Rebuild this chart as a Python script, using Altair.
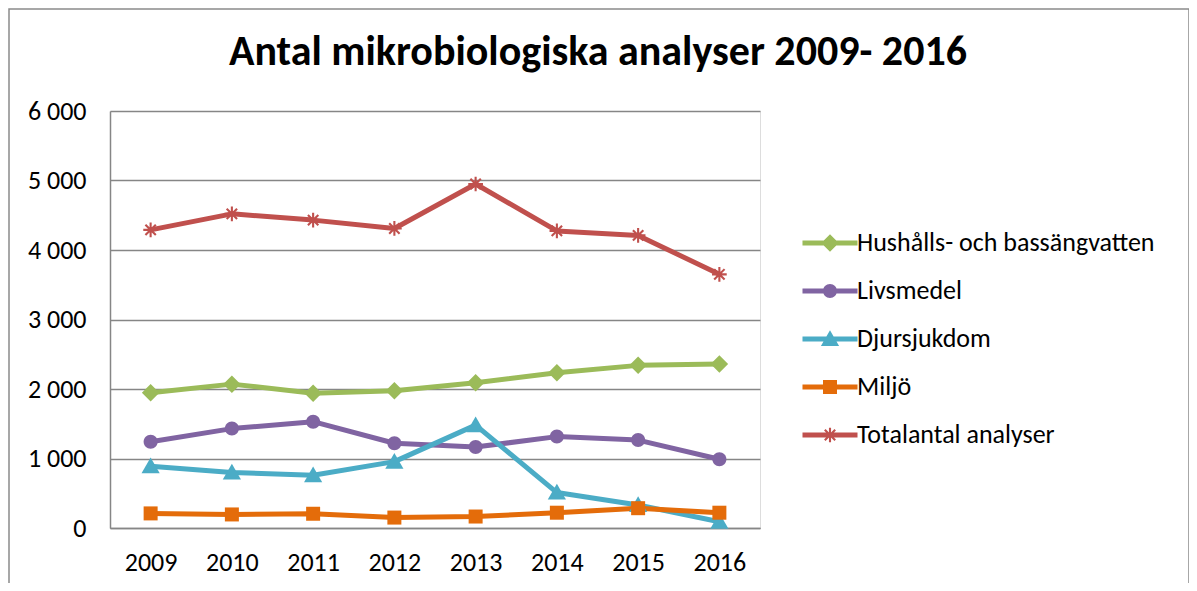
import altair as alt
import pandas as pd
import math

years = [2009, 2010, 2011, 2012, 2013, 2014, 2015, 2016]
series = ["Hushålls- och bassängvatten", "Livsmedel", "Djursjukdom", "Miljö", "Totalantal analyser"]
hushall = [1945, 2070, 1940, 1975, 2090, 2235, 2340, 2360]
livsmedel = [1240, 1430, 1530, 1220, 1165, 1315, 1265, 990]
djur = [890, 800, 760, 955, 1480, 510, 330, 90]
miljo = [210, 195, 205, 150, 165, 220, 285, 220]
total = [4290, 4520, 4430, 4310, 4950, 4275, 4210, 3650]
colors = ["#9BBB59", "#8064A2", "#4BACC6", "#E46C0A", "#C0504D"]
y_ticks = [0, 1000, 2000, 3000, 4000, 5000, 6000]
title_text = "Antal mikrobiologiska analyser 2009- 2016"

values = [hushall, livsmedel, djur, miljo, total]
rows = []
for s, vals in zip(series, values):
    for yr, v in zip(years, vals):
        rows.append({"series": s, "year": yr, "value": v})
df = pd.DataFrame(rows)

FONT = "Carlito, Lato, sans-serif"
LFS = 26


def rect(x0, y0, x1, y1):
    return f"M{x0:.3f},{y0:.3f}L{x1:.3f},{y0:.3f}L{x1:.3f},{y1:.3f}L{x0:.3f},{y1:.3f}Z"


def rot_bar(angle_deg, half_len, half_th):
    a = math.radians(angle_deg)
    c, s = math.cos(a), math.sin(a)
    pts = [(-half_len, -half_th), (half_len, -half_th), (half_len, half_th), (-half_len, half_th)]
    rp = [(x * c - y * s, x * s + y * c) for x, y in pts]
    return "M" + "L".join(f"{x:.3f},{y:.3f}" for x, y in rp) + "Z"


diamond = "M0,-1.25L1.25,0L0,1.25L-1.25,0Z"
circle = "M-1,0A1,1 0 1,1 1,0A1,1 0 1,1 -1,0Z"
triangle = "M0,-1.25L1.3,1L-1.3,1Z"
square = rect(-1, -1, 1, 1)
asterisk = "".join(rot_bar(a, 1.05, 0.15) for a in [0, 45, 90, 135])
markers = [diamond, circle, triangle, square, asterisk]

MSIZE = 196  # unit = 7px
legend_bar = rect(-3.93, -0.36, 3.93, 0.36)
legend_paths = [legend_bar + m for m in markers]

x_enc = alt.X(
    "year:O",
    scale=alt.Scale(type="point", padding=0.5),
    axis=alt.Axis(
        title=None, labelAngle=0, ticks=False, grid=False,
        domainColor="#868686", domainWidth=1.5,
        labelFont=FONT, labelFontSize=LFS, labelColor="#000000", labelPadding=21,
    ),
)
y_enc = alt.Y(
    "value:Q",
    scale=alt.Scale(domain=[0, 6000], nice=False),
    axis=alt.Axis(
        title=None, values=y_ticks, ticks=False, grid=True,
        gridColor="#868686", gridWidth=1.5,
        domainColor="#868686", domainWidth=1.5,
        labelFont=FONT, labelFontSize=LFS, labelColor="#000000", labelPadding=24,
        labelExpr="replace(format(datum.value, ','), ',', ' ')",
    ),
)

layers = []
frame = alt.Chart(pd.DataFrame({"a": [0]})).mark_rect(
    fillOpacity=0, stroke="#8a8a8a", strokeWidth=1.5, clip=False
).encode(x=alt.value(-101), x2=alt.value(1079), y=alt.value(-102), y2=alt.value(490))
layers.append(frame)

for s, c in zip(series, colors):
    layers.append(
        alt.Chart(df).transform_filter(alt.datum.series == s)
        .mark_line(color=c, strokeWidth=5, strokeCap="round", strokeJoin="round")
        .encode(x=x_enc, y=y_enc)
    )
for s, c, m in zip(series, colors, markers):
    layers.append(
        alt.Chart(df).transform_filter(alt.datum.series == s)
        .mark_point(shape=m, filled=True, color=c, size=MSIZE, opacity=1, strokeWidth=0)
        .encode(x=x_enc, y=y_enc)
    )

leg = alt.Legend(
    title=None, orient="none", legendX=687, legendY=119,
    labelFont=FONT, labelFontSize=LFS, labelColor="#000000",
    symbolSize=MSIZE, symbolStrokeWidth=0, symbolOffset=20, labelOffset=14,
    rowPadding=22, labelLimit=400,
)
dummy = (
    alt.Chart(df).transform_filter("datum.value < 0")
    .mark_point(filled=True, size=MSIZE, opacity=1)
    .encode(
        x=x_enc, y=y_enc,
        color=alt.Color("series:N", scale=alt.Scale(domain=series, range=colors), legend=leg),
        shape=alt.Shape("series:N", scale=alt.Scale(domain=series, range=legend_paths), legend=leg),
    )
)
layers.append(dummy)

chart = alt.layer(*layers).properties(
    width=650, height=417,
    title=alt.TitleParams(
        title_text, font=FONT, fontSize=42, fontWeight="bold", color="#000000",
        anchor="middle", dx=163, offset=0, dy=99, baseline="alphabetic",
    ),
    autosize=alt.AutoSizeParams(type="none"),
    padding={"left": 102, "top": 103, "right": 429, "bottom": 55},
).configure_view(stroke=None).configure(background="#ffffff")

chart.save("out.html", embed_options={"renderer": "svg", "actions": False})
